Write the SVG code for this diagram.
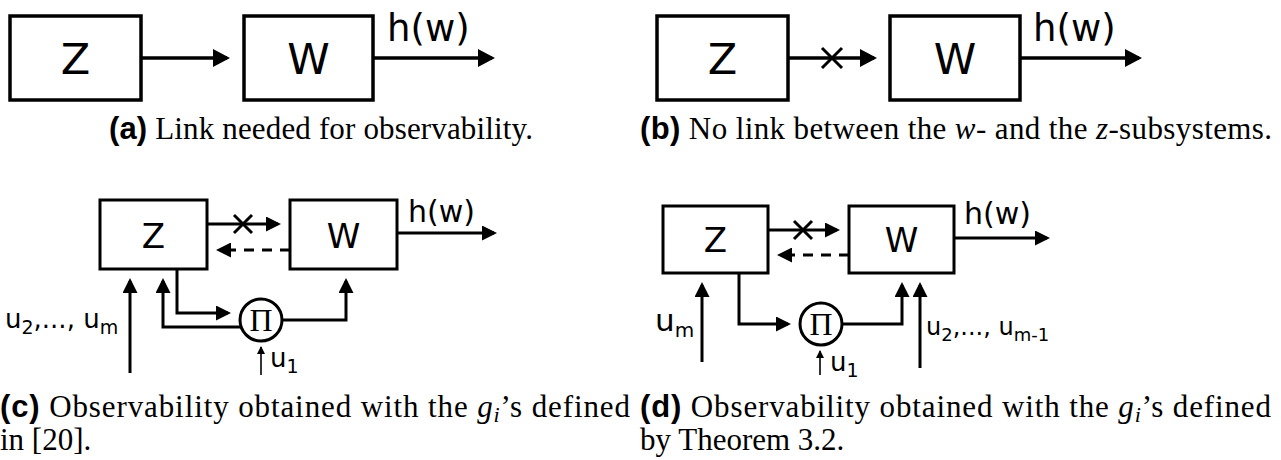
<svg xmlns="http://www.w3.org/2000/svg" width="1281" height="460" viewBox="0 0 1281 460">
<style>
.box{fill:#fff;stroke:#000;stroke-width:3.5}
.boxs{fill:#fff;stroke:#000;stroke-width:3}
.ln{fill:none;stroke:#000;stroke-width:3.5}
.lns{fill:none;stroke:#000;stroke-width:3}
.thin{fill:none;stroke:#000;stroke-width:1.6}
.dash{fill:none;stroke:#000;stroke-width:3;stroke-dasharray:10 8}
.lbl{font-family:"DejaVu Sans",sans-serif;fill:#000}
.cap{font-family:"Liberation Serif",serif;font-size:31px;fill:#000}
.capb{font-family:"Liberation Sans",sans-serif;font-weight:bold}
.it{font-style:italic}
.pi{font-family:"Liberation Serif",serif;font-size:32px;fill:#000}
</style>
<defs>
<marker id="ah" markerUnits="userSpaceOnUse" markerWidth="17" markerHeight="18" refX="14" refY="9" orient="auto" viewBox="0 0 17 18"><path d="M0,0 L17,9 L0,18 z" fill="#000"/></marker>
<marker id="ahm" markerUnits="userSpaceOnUse" markerWidth="15" markerHeight="15" refX="12" refY="7.5" orient="auto" viewBox="0 0 15 15"><path d="M0,0 L15,7.5 L0,15 z" fill="#000"/></marker>
<marker id="ahs" markerUnits="userSpaceOnUse" markerWidth="8" markerHeight="8" refX="7" refY="4" orient="auto" viewBox="0 0 8 8"><path d="M0,0 L8,4 L0,8 z" fill="#000"/></marker>
</defs>

<!-- Panel (a) -->
<g id="a-z"><rect class="box" x="10" y="16" width="131" height="84"/><text class="lbl" x="75.5" y="74" font-size="43" text-anchor="middle">Z</text></g>
<g id="a-w"><rect class="box" x="244" y="16" width="129" height="84"/><text class="lbl" x="308.5" y="74" font-size="43" text-anchor="middle">W</text></g>
<g id="a-connectors">
<line class="ln" x1="141" y1="58" x2="227" y2="58" marker-end="url(#ah)"/>
<line class="ln" x1="373" y1="58" x2="492" y2="58" marker-end="url(#ah)"/>
</g>
<text class="lbl" x="387" y="41" font-size="37">h(w)</text>
<text class="cap" x="109" y="139" textLength="424"><tspan class="capb">(a)</tspan> Link needed for observability.</text>

<!-- Panel (b) -->
<g id="b-z"><rect class="box" x="657" y="16" width="131" height="84"/><text class="lbl" x="722.5" y="74" font-size="43" text-anchor="middle">Z</text></g>
<g id="b-w"><rect class="box" x="890" y="16" width="130" height="84"/><text class="lbl" x="955" y="74" font-size="43" text-anchor="middle">W</text></g>
<g id="b-connectors">
<line class="ln" x1="788" y1="58" x2="874" y2="58" marker-end="url(#ah)"/>
<path class="lns" d="M822,48 L842,68 M842,48 L822,68"/>
<line class="ln" x1="1020" y1="58" x2="1139" y2="58" marker-end="url(#ah)"/>
</g>
<text class="lbl" x="1033" y="41" font-size="37">h(w)</text>
<text class="cap" x="640" y="139" textLength="632"><tspan class="capb">(b)</tspan> No link between the <tspan class="it">w</tspan>- and the <tspan class="it">z</tspan>-subsystems.</text>

<!-- Panel (c) -->
<g id="c-z"><rect class="boxs" x="100" y="200" width="107" height="69"/><text class="lbl" x="153.5" y="248" font-size="34" text-anchor="middle">Z</text></g>
<g id="c-w"><rect class="boxs" x="290" y="200" width="107" height="69"/><text class="lbl" x="343.5" y="248" font-size="34" text-anchor="middle">W</text></g>
<g id="c-pi"><circle cx="261" cy="320" r="21" fill="#fff" stroke="#000" stroke-width="3"/><text class="pi" x="261" y="331" text-anchor="middle">Π</text></g>
<g id="c-connectors">
<line class="lns" x1="207" y1="224" x2="278" y2="224" marker-end="url(#ahm)"/>
<path class="lns" d="M234,215 L252,233 M252,215 L234,233"/>
<line class="dash" x1="290" y1="250" x2="219" y2="250" marker-end="url(#ahm)"/>
<line class="lns" x1="397" y1="233" x2="494" y2="233" marker-end="url(#ahm)"/>
<line class="lns" x1="130" y1="373" x2="130" y2="281" marker-end="url(#ahm)"/>
<path class="lns" d="M177,269 V313 H228" marker-end="url(#ahm)"/>
<path class="lns" d="M242,327 H163 V281" marker-end="url(#ahm)"/>
<path class="lns" d="M282,320 H346 V281" marker-end="url(#ahm)"/>
<line class="thin" x1="261" y1="375" x2="261" y2="347" marker-end="url(#ahs)"/>
</g>
<text class="lbl" x="408" y="222" font-size="30">h(w)</text>
<text class="lbl" x="5" y="328" font-size="26">u<tspan font-size="19" dy="6">2</tspan><tspan dy="-6">,..., u</tspan><tspan font-size="19" dy="6">m</tspan></text>
<text class="lbl" x="270" y="367" font-size="26">u<tspan font-size="19" dy="6">1</tspan></text>
<text class="cap" x="0" y="417" textLength="630"><tspan class="capb">(c)</tspan> Observability obtained with the <tspan class="it">g</tspan><tspan class="it" font-size="22" dy="5">i</tspan><tspan dy="-5">’s defined</tspan></text>
<text class="cap" x="0" y="450">in [20].</text>

<!-- Panel (d) -->
<g id="d-z"><rect class="boxs" x="663" y="206" width="105" height="67"/><text class="lbl" x="715.5" y="252" font-size="34" text-anchor="middle">Z</text></g>
<g id="d-w"><rect class="boxs" x="849" y="206" width="105" height="67"/><text class="lbl" x="901.5" y="252" font-size="34" text-anchor="middle">W</text></g>
<g id="d-pi"><circle cx="821" cy="324" r="21" fill="#fff" stroke="#000" stroke-width="3"/><text class="pi" x="821" y="335" text-anchor="middle">Π</text></g>
<g id="d-connectors">
<line class="lns" x1="768" y1="230" x2="837" y2="230" marker-end="url(#ahm)"/>
<path class="lns" d="M794,221 L812,239 M812,221 L794,239"/>
<line class="dash" x1="849" y1="255" x2="780" y2="255" marker-end="url(#ahm)"/>
<line class="lns" x1="954" y1="238" x2="1047" y2="238" marker-end="url(#ahm)"/>
<line class="lns" x1="702" y1="362" x2="702" y2="285" marker-end="url(#ahm)"/>
<path class="lns" d="M739,273 V324 H788" marker-end="url(#ahm)"/>
<path class="lns" d="M842,324 H902 V285" marker-end="url(#ahm)"/>
<line class="lns" x1="920" y1="368" x2="920" y2="285" marker-end="url(#ahm)"/>
<line class="thin" x1="820" y1="375" x2="820" y2="351" marker-end="url(#ahs)"/>
</g>
<text class="lbl" x="964" y="224" font-size="30">h(w)</text>
<text class="lbl" x="655" y="331" font-size="31">u<tspan font-size="20" dy="6">m</tspan></text>
<text class="lbl" x="926" y="335" font-size="24">u<tspan font-size="18" dy="6">2</tspan><tspan dy="-6">,..., u</tspan><tspan font-size="18" dy="6">m-1</tspan></text>
<text class="lbl" x="830" y="371" font-size="26">u<tspan font-size="19" dy="6">1</tspan></text>
<text class="cap" x="640" y="417" textLength="631"><tspan class="capb">(d)</tspan> Observability obtained with the <tspan class="it">g</tspan><tspan class="it" font-size="22" dy="5">i</tspan><tspan dy="-5">’s defined</tspan></text>
<text class="cap" x="640" y="450">by Theorem 3.2.</text>
</svg>
